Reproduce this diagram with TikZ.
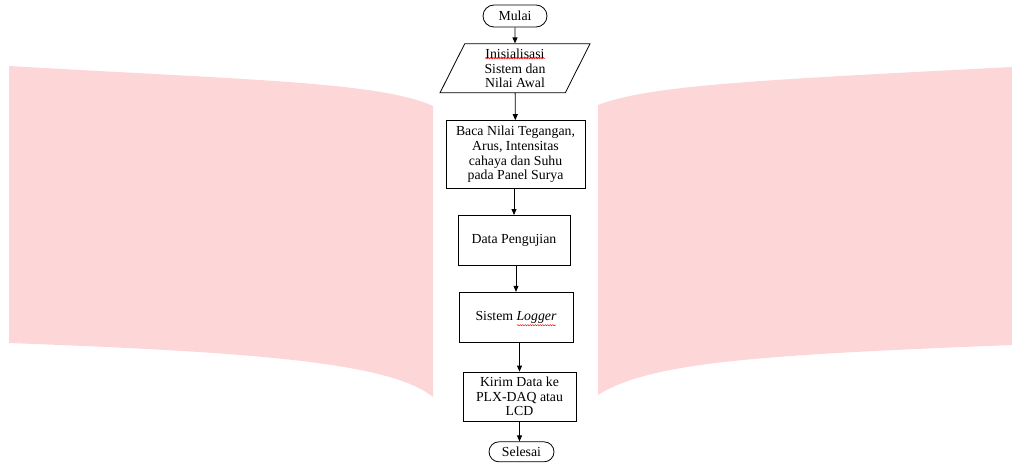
\documentclass[tikz,border=0pt]{standalone}
\usepackage{fontspec}
\setmainfont{Liberation Serif}
\usepackage{tikz}
\usetikzlibrary{positioning}
\usetikzlibrary{shapes.geometric,shapes.misc,arrows.meta,decorations.pathmorphing}
\definecolor{watermark}{RGB}{253,214,216}

\begin{document}
\begin{tikzpicture}[x=1pt, y=-1pt, line width=0.8pt, font=\fontsize{13.8}{14.7}\selectfont,
            term/.style = {draw, rounded rectangle, minimum width=64pt, minimum height=22pt, inner sep=0pt},
            io/.style = {draw, trapezium, trapezium left angle=59, trapezium right angle=121, trapezium stretches body, minimum width=150pt, minimum height=49pt, align=center, inner sep=1pt},
            proc/.style = {draw, rectangle, minimum height=50pt, align=center, inner sep=2pt},
            flow/.style = {-{Triangle[length=6pt,width=5pt]}},
            spell/.style = {red, line width=0.5pt, decorate, decoration={snake, amplitude=0.6pt, segment length=2.5pt}}]
            \useasboundingbox (0,0) rectangle (1012,468);
            % Watermark
            \fill[watermark] (9,66) .. controls (250,80) and (380,82) .. (433,106)
                -- (433,397) .. controls (390,362) and (250,352) .. (9,343) -- cycle;
            \fill[watermark] (598,105) .. controls (650,85) and (760,80) .. (1012,67)
                -- (1012,345) .. controls (760,355) and (650,362) .. (598,395) -- cycle;
            % Nodes
            \node[term] (mulai) at (515,16) {Mulai};
            \node[io] (init) [below=16pt of mulai] {Inisialisasi\\Sistem dan\\Nilai Awal};
            \node[proc, minimum width=139pt, minimum height=68pt] (baca) [below=27pt of init, xshift=0.5pt] {Baca Nilai Tegangan,\\Arus, Intensitas\\cahaya dan Suhu\\pada Panel Surya};
            \node[proc, minimum width=112pt] (data) [below=26pt of baca, xshift=-1.5pt] {Data Pengujian};
            \node[proc, minimum width=114pt] (logger) [below=26pt of data, xshift=2pt] {Sistem \textit{Logger}};
            \node[proc, minimum width=113pt, minimum height=49pt] (kirim) [below=29pt of logger, xshift=3.5pt] {Kirim Data ke\\PLX-DAQ atau\\LCD};
            \node[term, minimum width=65pt, minimum height=20pt] (selesai) [below=20pt of kirim, xshift=2pt] {Selesai};
            % Spelling marks
            \draw[spell] ([xshift=-30pt, yshift=10pt]init.center) -- ++(60,0);
            \draw[spell] ([xshift=1pt, yshift=-8pt]logger.center) -- ++(39,0);
            % Edges
            \draw[flow] (mulai) -- (init);
            \draw[flow] (init) -- (baca);
            \draw[flow] (baca.south -| data.north) -- (data.north);
            \draw[flow] (data.south -| logger.north) -- (logger.north);
            \draw[flow] (logger.south -| kirim.north) -- (kirim.north);
            \draw[flow] (kirim.south) -- (kirim.south |- selesai.north);
\end{tikzpicture}
\end{document}
